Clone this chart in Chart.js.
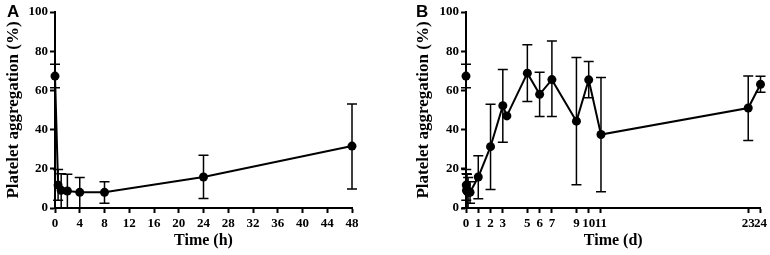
<!DOCTYPE html>
<html>
<head>
<meta charset="utf-8">
<script src="https://cdn.jsdelivr.net/npm/chart.js@4.4.0/dist/chart.umd.min.js"></script>
<style>
  body { margin: 0; background: #fff; }
  .wrap { position: absolute; top: 0; width: 385px; height: 255px; }
  .tag { position: absolute; top: 2px; font: bold 17px "Liberation Sans", Arial, sans-serif; color: #000; }
</style>
</head>
<body>
<div class="wrap" style="left:0"><canvas id="chartA" width="385" height="255"></canvas></div>
<div class="wrap" style="left:385px"><canvas id="chartB" width="385" height="255"></canvas></div>
<div class="tag" style="left:7px">A</div>
<div class="tag" style="left:416px">B</div>
<script>
// panel A: hours after dosing
const hoursA = [0, 0.5, 1, 2, 4, 8, 24, 48];
const aggA = [67.3, 11.7, 9.0, 8.7, 8.0, 8.0, 15.8, 31.6];
const hiA = [73.3, 19.7, 17.5, 17.2, 15.5, 13.4, 26.9, 53.1];
const loA = [61.4, 3.9, 0, 0, 0, 2.4, 4.9, 9.7];
const hourTicks = [0, 4, 8, 12, 16, 20, 24, 28, 32, 36, 40, 44, 48];

// panel B: days
const baseB = { day: 0, agg: 67.3, hi: 73.3, lo: 61.4 };
const daysB = [0.02, 0.04, 0.08, 0.17, 0.33, 1, 2, 3, 3.33, 5, 6, 7, 9, 10, 11, 23, 24];
const aggB = [11.7, 9.0, 8.7, 8.0, 8.0, 15.8, 31.3, 52.2, 47.0, 68.8, 58.0, 65.5, 44.3, 65.4, 37.5, 51.0, 63.1];
const hiB = [19.7, 17.5, 17.2, 15.5, 13.4, 26.7, 52.9, 70.6, 47.0, 83.3, 69.2, 85.2, 76.8, 74.8, 66.6, 67.3, 67.2];
const loB = [3.9, 0, 0, 0, 2.4, 4.7, 9.4, 33.6, 47.0, 54.4, 46.7, 46.7, 11.9, 56.2, 8.3, 34.5, 59.1];
const dayTicks = [0, 1, 2, 3, 5, 6, 7, 9, 10, 11, 23, 24];

const serif = '"Liberation Serif", "Times New Roman", serif';

const errorBars = {
  id: 'errorBars',
  beforeDatasetsDraw(chart) {
    const ctx = chart.ctx;
    const xs = chart.scales.x, ys = chart.scales.y;
    ctx.save();
    ctx.strokeStyle = '#000';
    ctx.lineWidth = 1.5;
    chart.data.datasets.forEach(ds => {
      if (!ds.hi) return;
      ds.data.forEach((p, i) => {
        const x = xs.getPixelForValue(p.x);
        const yh = ys.getPixelForValue(ds.hi[i]);
        const yl = ys.getPixelForValue(ds.lo[i]);
        if (Math.abs(yh - yl) < 1) return;
        ctx.beginPath();
        ctx.moveTo(x, yh); ctx.lineTo(x, yl);
        ctx.moveTo(x - 5, yh); ctx.lineTo(x + 5, yh);
        ctx.moveTo(x - 5, yl); ctx.lineTo(x + 5, yl);
        ctx.stroke();
      });
    });
    ctx.restore();
  }
};

function series(xs, ys, hi, lo, line) {
  return {
    data: xs.map((x, i) => ({ x: x, y: ys[i] })),
    hi: hi, lo: lo,
    showLine: line,
    borderColor: '#000',
    backgroundColor: '#000',
    borderWidth: 2,
    pointRadius: 4.5,
    pointBorderWidth: 0,
    clip: false
  };
}

function makeChart(id, datasets, xMax, xTicks, xTitle, yTitlePad, yWidth, padRight) {
  return new Chart(document.getElementById(id), {
    type: 'scatter',
    data: { datasets: datasets },
    plugins: [errorBars],
    options: {
      responsive: false,
      animation: false,
      layout: { padding: { top: 12, right: padRight, bottom: 0, left: 0 } },
      plugins: { legend: { display: false }, tooltip: { enabled: false } },
      scales: {
        x: {
          type: 'linear',
          min: 0, max: xMax,
          afterBuildTicks(s) { s.ticks = xTicks.map(v => ({ value: v })); },
          grid: { display: true, drawOnChartArea: false, drawTicks: true, tickLength: 5, tickWidth: 2, tickColor: '#000' },
          border: { display: true, color: '#000', width: 2 },
          ticks: { color: '#000', font: { family: serif, size: 13, weight: 'bold' }, padding: 3, autoSkip: false, maxRotation: 0 },
          title: { display: true, text: xTitle, color: '#000', font: { family: serif, size: 16, weight: 'bold' }, padding: { top: 0, bottom: 5 } },
          afterFit(s) { s.height = 47; }
        },
        y: {
          min: 0, max: 100,
          grid: { display: true, drawOnChartArea: false, drawTicks: true, tickLength: 5, tickWidth: 2, tickColor: '#000' },
          border: { display: true, color: '#000', width: 2 },
          ticks: { stepSize: 20, color: '#000', font: { family: serif, size: 13, weight: 'bold' }, padding: 2 },
          title: { display: true, text: 'Platelet aggregation (%)', color: '#000', font: { family: serif, size: 17, weight: 'bold' }, padding: { top: yTitlePad, bottom: 0 } },
          afterFit(s) { s.width = yWidth; }
        }
      }
    }
  });
}

makeChart('chartA',
  [series(hoursA, aggA, hiA, loA, true)],
  48, hourTicks, 'Time (h)', 3, 55, 33);

makeChart('chartB',
  [series([baseB.day], [baseB.agg], [baseB.hi], [baseB.lo], false),
   series(daysB, aggB, hiB, loB, true)],
  24, dayTicks, 'Time (d)', 28, 81, 9);
</script>
</body>
</html>
